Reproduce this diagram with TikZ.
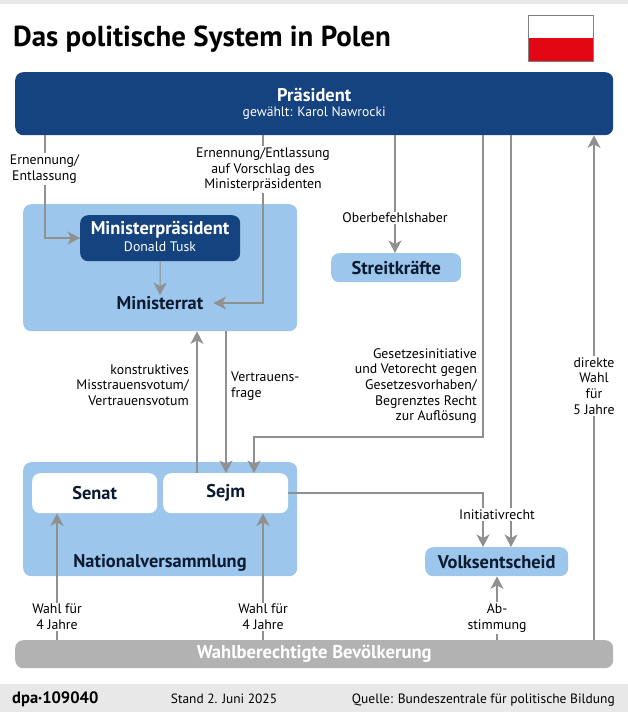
\documentclass[tikz,border=0pt]{standalone}
\usepackage{fontspec}
\setmainfont{PT Sans}
\usetikzlibrary{arrows.meta,calc}
\definecolor{dblue}{HTML}{14437F}
\definecolor{lblue}{HTML}{9CC6EC}
\definecolor{lgray}{HTML}{B2B2B2}
\definecolor{foot}{HTML}{E8E8E8}
\definecolor{conn}{HTML}{909090}
\definecolor{flagred}{HTML}{E30613}
\definecolor{ink}{HTML}{0B1A30}
\tikzset{
 box/.style={rectangle,rounded corners=8pt,inner sep=0pt,align=center,anchor=north west},
 captxt/.style={inner sep=0pt,text=ink,font=\fontsize{18.4}{20}\selectfont\bfseries},
 lab/.style={fill=white,inner sep=1.5pt,align=center,text=black,font=\fontsize{13.8}{15.8}\selectfont},
 labr/.style={inner sep=0pt,align=right,anchor=east,text=black,font=\fontsize{13.8}{15.6}\selectfont},
 labl/.style={inner sep=0pt,align=left,anchor=west,text=black,font=\fontsize{13.8}{15.8}\selectfont},
 con/.style={draw=conn,line width=1.1pt},
 arr/.style={con,-{Stealth[length=12.5pt,width=13pt,inset=3.5pt]}},
}
\begin{document}
\begin{tikzpicture}[x=1pt,y=-1pt]
\useasboundingbox (0,0) rectangle (628,712);
\fill[foot] (0,0) rectangle (628,4);
\fill[foot] (0,684) rectangle (628,712);
% title and flag
\node[inner sep=0pt,anchor=base west,font=\fontsize{28.9}{30}\selectfont\bfseries] (title) at (13,46) {Das politische System in Polen};
\fill[flagred] (528,38) rectangle (593,61);
\draw[draw=gray,line width=.6pt] (528,15) rectangle (593,61);
% boxes
\node[box,fill=dblue,minimum width=598pt,minimum height=63pt,text=white] (pres) at (15,72)
  {{\fontsize{18.4}{20}\selectfont\bfseries Präsident}\\[3.5pt]{\fontsize{13.6}{14}\selectfont gewählt: Karol Nawrocki}};
\node[box,fill=lblue,minimum width=274pt,minimum height=127pt] (mrbox) at (23,204) {};
\node[box,fill=dblue,minimum width=160pt,minimum height=46pt] (mp) at (80,215) {};
\node[inner sep=0pt,align=center,text=white] (mptxt) at (160,236.5)
  {{\fontsize{18.4}{20}\selectfont\bfseries Ministerpräsident}\\[3pt]{\fontsize{13.8}{14}\selectfont Donald Tusk}};
\node[captxt] (mr) at (160,303) {Ministerrat};
\node[box,fill=lblue,minimum width=130pt,minimum height=29pt,captxt] (sk) at (331,253) {Streitkräfte};
\node[box,fill=lblue,minimum width=274pt,minimum height=114pt] (nvbox) at (23,462) {};
\node[box,fill=white,minimum width=125pt,minimum height=40pt,captxt] (senat) at (32,473) {Senat};
\node[box,fill=white,minimum width=125pt,minimum height=40pt,captxt] (sejm) at (163,473) {Sejm};
\node[captxt] (nv) at (160,562.5) {Nationalversammlung};
\node[box,fill=lblue,minimum width=143pt,minimum height=29pt,captxt] (ve) at (425,547) {Volksentscheid};
\node[box,fill=lgray,minimum width=598pt,minimum height=28pt,text=white,font=\fontsize{18.6}{20}\selectfont\bfseries] (volk) at (15,640) {Wahlberechtigte Bevölkerung};
% routing points
\coordinate (a45) at (45,238);
\coordinate (b263) at (263,303);
\coordinate (c395) at (395,253);
\coordinate (d483) at (483,437);
\coordinate (d254) at (254,437);
\coordinate (e511) at (511,547);
\coordinate (f483) at (483,493);
\coordinate (g594) at (594,135);
\coordinate (h197) at (197,473);
\coordinate (i226) at (226,473);
\coordinate (j57) at (57,513);
\coordinate (k263) at (263,513);
\coordinate (l497) at (497,576);
% connectors
\draw[arr] (pres.south -| a45) -- (a45) -- (mp.west |- a45);
\draw[arr] (pres.south -| b263) -- (b263) -- ($(mr.east)+(10,0)$);
\draw[arr] (pres.south -| c395) -- (sk.north -| c395);
\draw[arr] (pres.south -| d483) -- (d483) -- (d254) -- (sejm.north -| d254);
\draw[arr] (pres.south -| e511) -- (ve.north -| e511);
\draw[arr] (sejm.east |- f483) -- (f483) -- (ve.north -| f483);
\draw[arr] (volk.north -| g594) -- (pres.south -| g594);
\draw[arr] (sejm.north -| h197) -- (mrbox.south -| h197);
\draw[arr] (mrbox.south -| i226) -- (sejm.north -| i226);
\draw[arr] (volk.north -| j57) -- (senat.south -| j57);
\draw[arr] (volk.north -| k263) -- (sejm.south -| k263);
\draw[arr] (volk.north -| l497) -- (ve.south -| l497);
\draw[arr] (mp.south) -- ($(mr.north)+(0,-1)$);
% labels on lines
\node[lab] (l1) at (44.5,169) {Ernennung/\\Entlassung};
\node[lab] (l2) at (263,169.5) {Ernennung/Entlassung\\auf Vorschlag des\\Ministerpräsidenten};
\node[lab] (l3) at (395,218) {Oberbefehlshaber};
\node[labr] (l4) at (189,385) {konstruktives\\Misstrauensvotum/\\Vertrauensvotum};
\node[labl] (l5) at (231,386) {Vertrauens-\\frage};
\node[labr] (l6) at (477,386) {Gesetzesinitiative\\und Vetorecht gegen\\Gesetzesvorhaben/\\Begrenztes Recht\\zur Auflösung};
\node[lab] (l7) at (594,386) {direkte\\Wahl\\für\\5 Jahre};
\node[lab] (l8) at (497,514.5) {Initiativrecht};
\node[lab] (l9) at (497,618) {Ab-\\stimmung};
\node[lab] (l10) at (57,617) {Wahl für\\4 Jahre};
\node[lab] (l11) at (263,617) {Wahl für\\4 Jahre};
% footer
\node[inner sep=0pt,anchor=base west,font=\fontsize{16.5}{18}\selectfont\bfseries] (dpa) at (12,703) {dpa\raisebox{1.5pt}{\fontsize{9}{9}\selectfont•}109040};
\node[inner sep=0pt,anchor=base,font=\fontsize{13.4}{15}\selectfont] (stand) at (224,703) {Stand 2. Juni 2025};
\node[inner sep=0pt,anchor=base east,font=\fontsize{13.5}{15}\selectfont] (quelle) at (615,703) {Quelle: Bundeszentrale für politische Bildung};
\end{tikzpicture}
\end{document}
